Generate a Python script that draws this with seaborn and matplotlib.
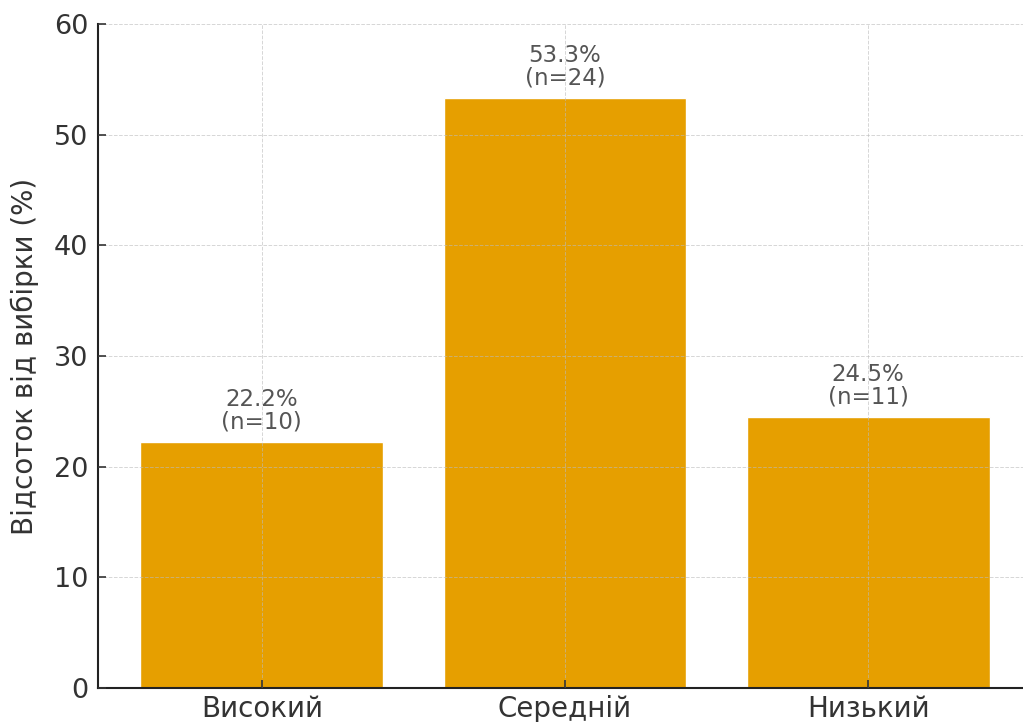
import matplotlib
matplotlib.use("Agg")
import matplotlib.pyplot as plt
import seaborn as sns
import pandas as pd

categories = ["Високий", "Середній", "Низький"]
percent = [22.2, 53.3, 24.5]
counts = [10, 24, 11]
ylabel = "Відсоток від вибірки (%)"

sns.set_style("ticks")
plt.rcParams['font.family'] = ['DejaVu Sans']

df = pd.DataFrame({"cat": categories, "pct": percent})

fig = plt.figure(figsize=(10.23, 7.22), dpi=100)
ax = fig.add_axes([98/1023, 34/722, 934/1023, 664/722])

sns.barplot(data=df, x="cat", y="pct", color="#E69F00", saturation=1, width=0.8, ax=ax, zorder=1)

ax.set_xlim(-0.54, 2.54)
ax.set_ylim(0, 60)
ax.set_xlabel("")
ax.set_ylabel(ylabel, fontsize=20, color="#333333", labelpad=11)
ax.tick_params(axis="both", direction="in", length=6, width=1.2, colors="#333333")
ax.tick_params(axis="y", labelsize=19.5, pad=7)
ax.tick_params(axis="x", labelsize=20, pad=5)
for s in ["top", "right"]:
    ax.spines[s].set_visible(False)
for s in ["left", "bottom"]:
    ax.spines[s].set_linewidth(1.5)
    ax.spines[s].set_color("#222222")

ax.grid(True, linestyle="--", linewidth=0.7, color="#bbbbbb", alpha=0.6)
ax.set_axisbelow(False)

for i, (p, n) in enumerate(zip(percent, counts)):
    ax.annotate(f"{p:.1f}%\n(n={n})", (i, p), xytext=(0, 6), textcoords="offset points",
                ha="center", va="bottom", fontsize=16.5, color="#555555", linespacing=1.0)

fig.savefig("out.png", dpi=100)
